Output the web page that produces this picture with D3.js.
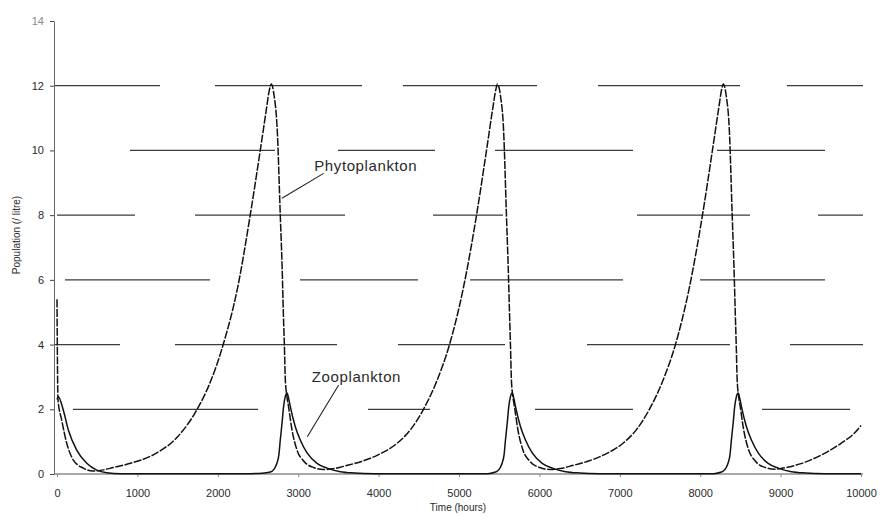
<!DOCTYPE html>
<html>
<head>
<meta charset="utf-8">
<script src="https://cdn.jsdelivr.net/npm/d3@7"></script>
<style>
  body { margin: 0; background: #fff; }
  text { font-family: "Liberation Sans", Arial, sans-serif; fill: #2a2a2a; }
</style>
</head>
<body>
<div id="chart"></div>
<script>
const width = 884;
const height = 517;

// phytoplankton readings (time in hours, population per litre)
const phytoTime = [0, 12, 58, 121, 203, 328, 448, 560, 700, 913, 1240, 1500, 1743, 1900, 2067, 2250, 2403, 2528, 2600, 2640,
  2665, 2700, 2740, 2777, 2800, 2815, 2828, 2840, 2860, 2880, 2923, 2985, 3067, 3192, 3316, 3450, 3600, 3800, 4000, 4230,
  4400, 4558, 4720, 4882, 5050, 5218, 5342, 5420, 5460, 5479, 5515, 5555, 5590, 5612, 5628, 5640, 5652, 5670, 5690, 5733,
  5795, 5877, 6002, 6126, 6260, 6410, 6610, 6810, 7040, 7210, 7368, 7530, 7692, 7860, 8028, 8152, 8230, 8268, 8287, 8323,
  8363, 8398, 8420, 8436, 8448, 8460, 8478, 8498, 8541, 8603, 8685, 8810, 8934, 9004, 9253, 9502, 9751, 9917, 10000];
const phytoValue = [5.4, 2.3, 1.67, 0.95, 0.43, 0.18, 0.09, 0.12, 0.2, 0.33, 0.65, 1.15, 2.0, 2.8, 4.0, 5.8, 8.0, 10.0, 11.2, 11.85,
  12.05, 11.7, 10.6, 8.0, 6.4, 5.0, 4.0, 2.9, 2.4, 2.08, 1.36, 0.74, 0.4, 0.2, 0.14, 0.17, 0.26, 0.4, 0.6, 0.95,
  1.38, 2.0, 2.85, 4.0, 5.7, 8.0, 10.0, 11.3, 11.9, 12.05, 11.7, 10.6, 8.0, 6.4, 5.0, 4.0, 2.9, 2.4, 2.08, 1.36,
  0.74, 0.4, 0.2, 0.14, 0.17, 0.26, 0.4, 0.6, 0.95, 1.38, 2.0, 2.85, 4.0, 5.7, 8.0, 10.0, 11.3, 11.9, 12.05, 11.7,
  10.6, 8.0, 6.4, 5.0, 4.0, 2.9, 2.4, 2.08, 1.36, 0.74, 0.4, 0.2, 0.15, 0.17, 0.32, 0.58, 0.95, 1.26, 1.5];

// zooplankton readings
const zooTime = [0, 16, 78, 141, 245, 370, 494, 619, 800, 1200, 2000, 2400, 2550, 2653, 2700, 2736, 2760, 2777, 2800, 2818,
  2840, 2861, 2880, 2902, 2964, 3026, 3110, 3234, 3359, 3524, 3700, 3950, 4500, 5200, 5360, 5454, 5501, 5537, 5561, 5578,
  5601, 5619, 5641, 5662, 5681, 5703, 5765, 5827, 5911, 6035, 6160, 6325, 6501, 6751, 7300, 8000, 8170, 8264, 8311, 8347,
  8371, 8388, 8411, 8429, 8451, 8472, 8491, 8513, 8575, 8637, 8721, 8845, 8970, 9135, 9311, 9561, 10000];
const zooValue = [2.3, 2.39, 1.98, 1.36, 0.74, 0.33, 0.12, 0.04, 0.01, 0.005, 0.005, 0.01, 0.02, 0.06, 0.15, 0.34, 0.6, 1.05, 1.6, 2.08,
  2.4, 2.5, 2.35, 2.08, 1.46, 1.05, 0.65, 0.33, 0.18, 0.07, 0.03, 0.01, 0.005, 0.005, 0.01, 0.06, 0.15, 0.34, 0.6, 1.05,
  1.6, 2.08, 2.4, 2.5, 2.35, 2.08, 1.46, 1.05, 0.65, 0.33, 0.18, 0.07, 0.03, 0.01, 0.005, 0.005, 0.01, 0.06, 0.15, 0.34,
  0.6, 1.05, 1.6, 2.08, 2.4, 2.5, 2.35, 2.08, 1.46, 1.05, 0.65, 0.33, 0.18, 0.07, 0.03, 0.01, 0.005];

const xTicks = [0, 1000, 2000, 3000, 4000, 5000, 6000, 7000, 8000, 9000, 10000];
const yTicks = [0, 2, 4, 6, 8, 10, 12, 14];
const gridValues = [2, 4, 6, 8, 10, 12];

// curve labels: text anchor and leader line (time, value)
const labelNames = ["Phytoplankton", "Zooplankton"];
const labelAt = [[3200, 9.35], [3170, 2.84]];
const leaderFrom = [[3316, 9.29], [3503, 2.75]];
const leaderTo = [[2798, 8.52], [3113, 1.15]];

// broken look of the scanned grid lines
const gridDash = {
  2: "0,19,185,110,62,105,98,129,88,50",
  4: "0,1,65,55,162,61,107,82,143,60,73",
  6: "0,11,145,90,118,52,153,77,125,100",
  8: "0,3,78,60,150,88,70,134,113,68,45",
  10: "0,76,145,63,97,60,138,84,108,100",
  12: "106,55,147,41,134,61,142,47,76,100"
};

const plotLeft = 54;
const x = d3.scaleLinear().domain([0, 10000]).range([57, 861]);
const y = d3.scaleLinear().domain([0, 14]).range([474, 21]);

const svg = d3.select("#chart").append("svg")
  .attr("width", width)
  .attr("height", height);

// grid
svg.append("g")
  .selectAll("line")
  .data(gridValues)
  .enter()
  .append("line")
  .attr("x1", plotLeft)
  .attr("x2", x(10000) + 2)
  .attr("y1", d => y(d))
  .attr("y2", d => y(d))
  .attr("stroke", "#3c3c3c")
  .attr("stroke-width", 1.3)
  .attr("stroke-dasharray", d => gridDash[d]);

// axes
const xAxis = d3.axisBottom(x).tickValues(xTicks).tickFormat(d3.format("d"))
  .tickSize(3).tickPadding(12).tickSizeOuter(0);
const gx = svg.append("g")
  .attr("transform", `translate(0,${y(0)})`)
  .call(xAxis);
gx.select(".domain").attr("d", `M${plotLeft},0H${x(10000) + 2}`).attr("stroke", "#555").attr("stroke-width", 1.2);
gx.selectAll(".tick line").attr("stroke", "#888");
gx.selectAll("text").style("font-size", "11px");

const yAxis = d3.axisLeft(y).tickValues(yTicks).tickSize(4).tickPadding(6).tickSizeOuter(0);
const gy = svg.append("g")
  .attr("transform", `translate(${plotLeft},0)`)
  .call(yAxis);
gy.select(".domain").attr("stroke", "#666").attr("stroke-width", 1);
gy.selectAll(".tick line").attr("stroke", "#444");
gy.selectAll("text").style("font-size", "11px");
gy.selectAll(".tick").filter(d => d === 14).select("text").style("fill", "#888");

// axis titles
svg.append("text")
  .attr("x", 458)
  .attr("y", 511)
  .attr("text-anchor", "middle")
  .style("font-size", "10px")
  .text("Time (hours)");

svg.append("text")
  .attr("transform", "translate(20,235) rotate(-90)")
  .attr("text-anchor", "middle")
  .style("font-size", "10px")
  .text("Population (/ litre)");

// curves
const line = d3.line()
  .x(d => x(d[0]))
  .y(d => y(d[1]))
  .curve(d3.curveMonotoneX);

const phyto = phytoTime.map((t, i) => [t, phytoValue[i]]);
const zoo = zooTime.map((t, i) => [t, zooValue[i]]);

svg.append("path")
  .datum(zoo)
  .attr("fill", "none")
  .attr("stroke", "#111")
  .attr("stroke-width", 1.5)
  .attr("d", line);

svg.append("path")
  .datum(phyto)
  .attr("fill", "none")
  .attr("stroke", "#111")
  .attr("stroke-width", 1.5)
  .attr("stroke-dasharray", "8,1.5")
  .attr("d", line);

// labels with leader lines
labelNames.forEach((name, i) => {
  svg.append("line")
    .attr("x1", x(leaderFrom[i][0]))
    .attr("y1", y(leaderFrom[i][1]))
    .attr("x2", x(leaderTo[i][0]))
    .attr("y2", y(leaderTo[i][1]))
    .attr("stroke", "#222")
    .attr("stroke-width", 1.1);
  svg.append("text")
    .attr("x", x(labelAt[i][0]))
    .attr("y", y(labelAt[i][1]))
    .style("font-size", "15px")
    .style("letter-spacing", "0.6px")
    .text(name);
});
</script>
</body>
</html>
